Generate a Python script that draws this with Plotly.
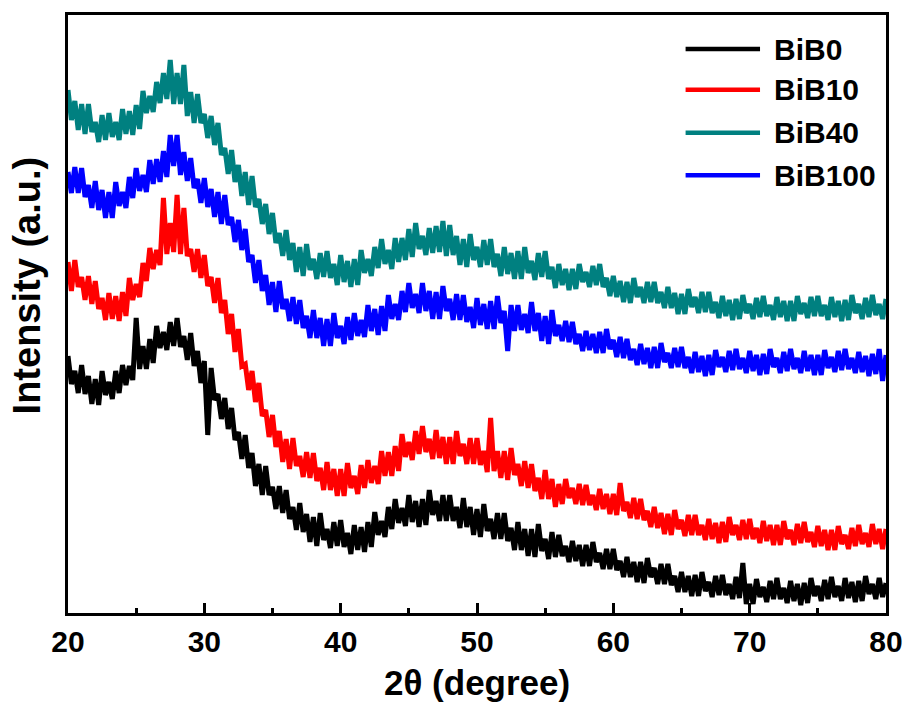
import numpy as np
import plotly.graph_objects as go

# 2-theta scan grid, 0.25 degree step from 20 to 80
two_theta = np.linspace(20, 80, 241)

series_names = ["BiB0", "BiB10", "BiB40", "BiB100"]
series_colors = ["#000000", "#ff0000", "#008080", "#0000ff"]

# Offset intensities (a.u.), one value per scan point
bib0 = [
    257, 229, 242, 220, 248, 219, 237, 209, 234, 208, 242, 218, 231, 214, 242, 220,
    248, 228, 247, 233, 295, 244, 267, 244, 274, 250, 287, 265, 281, 263, 291, 267,
    295, 266, 277, 253, 280, 247, 262, 230, 252, 178, 245, 213, 219, 194, 215, 184,
    205, 173, 181, 154, 178, 145, 160, 127, 149, 118, 147, 118, 126, 104, 127, 100,
    123, 94, 106, 83, 110, 81, 99, 71, 96, 67, 100, 73, 84, 65, 91, 67,
    93, 66, 80, 59, 88, 63, 86, 61, 91, 66, 101, 78, 92, 76, 106, 84,
    114, 90, 105, 87, 118, 91, 112, 86, 114, 88, 123, 98, 112, 92, 118, 92,
    118, 92, 106, 85, 115, 86, 106, 78, 104, 76, 109, 82, 94, 74, 100, 74,
    100, 72, 85, 63, 91, 63, 84, 57, 84, 56, 89, 62, 74, 54, 81, 56,
    78, 57, 67, 51, 72, 52, 68, 47, 68, 47, 71, 51, 60, 44, 64, 44,
    64, 43, 52, 36, 56, 36, 51, 31, 51, 30, 55, 36, 45, 29, 49, 29,
    49, 28, 37, 21, 41, 21, 37, 17, 38, 17, 41, 22, 31, 16, 37, 18,
    38, 18, 29, 14, 36, 15, 50, 9, 29, 9, 34, 16, 26, 11, 32, 14,
    35, 14, 25, 10, 32, 12, 29, 8, 30, 10, 35, 17, 27, 12, 33, 14,
    36, 16, 27, 12, 35, 15, 31, 11, 32, 12, 37, 19, 29, 14, 35, 16,
    30,
]

bib10 = [
    351, 322, 353, 326, 336, 313, 337, 309, 332, 304, 315, 293, 320, 294, 317, 292,
    321, 297, 335, 313, 329, 316, 350, 332, 365, 344, 363, 348, 415, 359, 390, 361,
    418, 359, 405, 357, 364, 341, 364, 335, 358, 327, 336, 310, 335, 300, 313, 279,
    299, 261, 284, 247, 249, 223, 242, 211, 230, 197, 203, 176, 198, 166, 182, 151,
    174, 144, 175, 147, 157, 136, 161, 135, 160, 132, 145, 123, 151, 123, 144, 117,
    144, 117, 150, 125, 137, 119, 148, 125, 153, 130, 147, 129, 162, 137, 161, 137,
    167, 142, 179, 156, 171, 153, 182, 159, 187, 161, 174, 154, 183, 155, 176, 149,
    176, 149, 182, 157, 169, 149, 175, 149, 175, 148, 162, 141, 195, 142, 162, 135,
    162, 133, 165, 138, 149, 127, 152, 125, 149, 122, 135, 114, 143, 114, 134, 106,
    129, 109, 134, 115, 125, 109, 129, 108, 128, 108, 118, 103, 124, 104, 119, 99,
    119, 98, 130, 102, 111, 95, 115, 94, 114, 93, 102, 86, 106, 85, 100, 79,
    99, 78, 103, 84, 93, 77, 98, 78, 98, 78, 88, 73, 94, 74, 90, 70,
    91, 71, 96, 78, 88, 73, 93, 74, 94, 74, 85, 70, 92, 72, 88, 68,
    88, 68, 92, 74, 83, 68, 89, 70, 91, 71, 81, 66, 87, 67, 83, 63,
    83, 63, 87, 69, 78, 64, 85, 67, 88, 69, 80, 66, 89, 69, 84, 64,
    84,
]

bib40 = [
    523, 493, 512, 483, 509, 479, 509, 481, 491, 471, 498, 473, 500, 476, 491, 473,
    504, 479, 502, 478, 508, 484, 522, 500, 517, 501, 531, 510, 540, 514, 553, 509,
    540, 509, 548, 497, 521, 490, 519, 490, 499, 475, 497, 468, 490, 458, 465, 439,
    463, 431, 448, 417, 441, 408, 437, 406, 414, 389, 409, 379, 400, 370, 380, 357,
    383, 353, 370, 341, 366, 337, 369, 343, 354, 334, 360, 336, 362, 335, 349, 328,
    358, 331, 352, 326, 354, 328, 363, 340, 354, 337, 366, 345, 374, 349, 363, 344,
    375, 351, 375, 353, 384, 356, 390, 364, 377, 358, 385, 360, 387, 361, 392, 357,
    388, 358, 377, 348, 374, 346, 379, 353, 366, 346, 373, 348, 374, 346, 359, 337,
    366, 339, 360, 334, 362, 334, 366, 340, 352, 333, 360, 336, 362, 334, 346, 325,
    349, 328, 344, 323, 344, 324, 349, 331, 341, 326, 347, 328, 349, 326, 335, 317,
    337, 316, 332, 311, 331, 310, 335, 316, 326, 310, 331, 311, 331, 310, 321, 305,
    326, 305, 320, 299, 319, 299, 324, 306, 316, 300, 321, 301, 321, 300, 311, 295,
    317, 297, 313, 293, 314, 294, 318, 300, 309, 294, 315, 296, 317, 297, 308, 293,
    316, 296, 312, 292, 312, 292, 317, 299, 310, 295, 316, 297, 317, 297, 308, 293,
    316, 296, 312, 292, 313, 293, 318, 300, 309, 294, 315, 296, 318, 298, 309, 294,
    314,
]

bib100 = [
    441, 420, 446, 420, 445, 416, 428, 405, 432, 403, 423, 395, 421, 395, 431, 407,
    421, 405, 436, 415, 445, 422, 438, 421, 453, 429, 454, 431, 462, 436, 478, 447,
    478, 438, 461, 432, 455, 425, 434, 410, 435, 406, 424, 396, 421, 389, 418, 388,
    396, 371, 393, 363, 384, 351, 358, 330, 353, 322, 338, 308, 331, 301, 332, 304,
    314, 292, 316, 289, 313, 285, 297, 275, 303, 275, 295, 267, 294, 267, 300, 275,
    287, 269, 296, 273, 300, 277, 293, 276, 308, 282, 304, 278, 307, 282, 318, 294,
    309, 293, 322, 301, 330, 305, 319, 300, 330, 302, 322, 294, 321, 294, 327, 302,
    314, 293, 319, 293, 318, 291, 306, 285, 315, 288, 309, 284, 312, 284, 317, 290,
    302, 262, 308, 282, 308, 283, 299, 280, 311, 282, 300, 272, 297, 269, 303, 277,
    288, 272, 292, 271, 291, 269, 279, 262, 282, 263, 279, 260, 281, 260, 284, 264,
    273, 256, 276, 255, 274, 253, 264, 248, 269, 249, 265, 245, 266, 245, 270, 251,
    260, 245, 265, 246, 266, 245, 256, 240, 261, 241, 257, 237, 258, 238, 263, 246,
    256, 241, 262, 243, 264, 244, 255, 240, 262, 242, 258, 238, 259, 239, 264, 246,
    255, 240, 261, 242, 264, 244, 255, 240, 262, 242, 258, 238, 258, 238, 263, 245,
    256, 241, 262, 243, 264, 244, 255, 240, 261, 241, 257, 237, 259, 239, 264, 232,
    258,
]

series_values = [bib0, bib10, bib40, bib100]

FONT = "Arial, 'Liberation Sans', sans-serif"

fig = go.Figure()
for name, color, values in zip(series_names, series_colors, series_values):
    fig.add_trace(go.Scatter(
        x=two_theta, y=values, mode="lines", name=name,
        line=dict(color=color, width=5), showlegend=False,
    ))

# Legend drawn as short line samples with bold labels, top right
legend_y = [0.943, 0.875, 0.803, 0.732]
for name, color, ly in zip(series_names, series_colors, legend_y):
    fig.add_shape(type="line", xref="paper", yref="paper",
                  x0=0.755, x1=0.846, y0=ly, y1=ly,
                  line=dict(color=color, width=4.5))
    fig.add_annotation(xref="paper", yref="paper", x=0.861, y=ly,
                       text=name, showarrow=False, xanchor="left", yanchor="middle",
                       font=dict(family=FONT, size=30, color="black", weight="bold"))

# Axis titles
fig.add_annotation(xref="paper", yref="paper", x=0.5, y=-0.116,
                   text="2θ (degree)", showarrow=False, xanchor="center", yanchor="middle",
                   font=dict(family=FONT, size=35, color="black", weight="bold"))
fig.add_annotation(xref="paper", yref="paper", x=-0.05, y=0.548,
                   text="Intensity (a.u.)", showarrow=False, textangle=-90,
                   xanchor="center", yanchor="middle",
                   font=dict(family=FONT, size=38, color="black", weight="bold"))

fig.update_xaxes(
    range=[20, 80], tickmode="array", tickvals=[20, 30, 40, 50, 60, 70, 80],
    ticks="inside", ticklen=10, tickwidth=3, tickcolor="black",
    minor=dict(tickvals=[25, 35, 45, 55, 65, 75], ticks="inside", ticklen=5,
               tickwidth=3, tickcolor="black"),
    showline=True, linewidth=3, linecolor="black", mirror=True,
    showgrid=False, zeroline=False, ticklabelstandoff=0,
    ticklabeloverflow="allow", automargin=False,
    tickfont=dict(family=FONT, size=30, color="black", weight="bold"),
)
fig.update_yaxes(
    range=[0, 598], showticklabels=False, ticks="",
    showline=True, linewidth=3, linecolor="black", mirror=True,
    showgrid=False, zeroline=False, automargin=False,
)

fig.update_layout(
    width=906, height=702,
    margin=dict(l=68, r=20, t=15, b=89),
    paper_bgcolor="white", plot_bgcolor="white",
)

fig.write_html("out.html")
